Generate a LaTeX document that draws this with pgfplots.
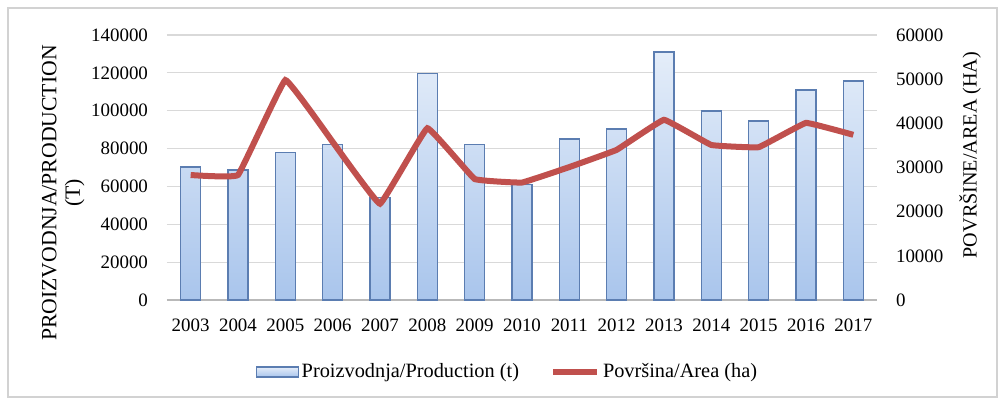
\documentclass[border=0pt]{standalone}
\usepackage{fontspec}
\setmainfont{Liberation Serif}
\usepackage{pgfplots}
\pgfplotsset{compat=1.18}

\definecolor{bartop}{HTML}{E4EDF9}
\definecolor{barbot}{HTML}{A9C5EC}
\definecolor{baredge}{HTML}{5B7DB1}
\definecolor{arealine}{HTML}{C0504D}
\definecolor{gridc}{HTML}{D9D9D9}

\pgfplotstableread{
x year prod area
0 2003 70300 28300
1 2004 68700 28300
2 2005 78000 49800
3 2006 82200 35800
4 2007 54000 21800
5 2008 119800 38900
6 2009 82000 27400
7 2010 61000 26600
8 2011 85000 30100
9 2012 90300 34000
10 2013 131000 40800
11 2014 99800 35100
12 2015 94600 34600
13 2016 111000 40100
14 2017 115700 37400
}\datatable

\pgfplotsset{
  common/.style={
    scale only axis, width=355bp, height=132.5bp,
    at={(0,0)}, anchor=south west,
    xmin=-0.5, xmax=14.5,
    major tick length=0pt,
    tick label style={font=\fontsize{9.5}{11}\selectfont},
    /pgf/number format/assume math mode=true,
    scaled y ticks=false,
    yticklabel style={/pgf/number format/fixed, /pgf/number format/1000 sep={}},
  },
  barlegend/.style={legend image code/.code={%
    \draw[draw=baredge, line width=0.6bp, top color=bartop, bottom color=barbot]
      (0bp,-2.5bp) rectangle (21bp,2.5bp);}},
  linelegend/.style={legend image code/.code={%
    \draw[arealine, line width=3bp] (0bp,0bp) -- (22bp,0bp);}},
}

\begin{document}
\begin{tikzpicture}
\path[use as bounding box] (-83.5bp,-50bp) rectangle (418.5bp,150bp);
\draw[gray!35, line width=0.8bp] (-79.5bp,-48.5bp) rectangle (415bp,146bp);

\begin{axis}[common,
  axis x line*=bottom, axis y line*=left,
  x axis line style={draw=gray!55, line width=0.6bp},
  y axis line style={draw=none},
  ymin=0, ymax=140000, ytick distance=20000,
  ymajorgrids, grid style={gridc, line width=0.6bp},
  xtick=data,
  xticklabels from table={\datatable}{year},
  xticklabel style={yshift=-6bp},
  yticklabel style={xshift=-6bp},
  ylabel={PROIZVODNJA/PRODUCTION\\(T)},
  ylabel style={align=center, font=\fontsize{10.9}{11.8}\selectfont,
    at={(axis description cs:-0.146,0.404)}, anchor=center},
]
\addplot[ybar, bar width=0.42, draw=baredge, line width=0.7bp,
  top color=bartop, bottom color=barbot]
  table[x=x, y=prod] {\datatable};
\end{axis}

\begin{axis}[common,
  axis x line=none, axis y line*=right,
  y axis line style={draw=none},
  ymin=0, ymax=60000, ytick distance=10000,
  yticklabel style={xshift=6bp},
  ylabel={POVRŠINE/AREA (HA)},
  ylabel style={font=\fontsize{10.1}{11}\selectfont,
    at={(axis description cs:1.131,0.547)}, anchor=center, rotate=0},
  legend style={at={(0.48,-0.272)}, anchor=center, draw=none, fill=none,
    legend columns=2, font=\fontsize{10.2}{11}\selectfont,
    nodes={inner xsep=1.5bp},
    /tikz/every even column/.append style={column sep=14bp}},
  legend cell align=left,
]
\addlegendimage{barlegend}
\addlegendentry{Proizvodnja/Production (t)}
\addplot[arealine, line width=3bp, smooth, tension=0.12, linelegend]
  table[x=x, y=area] {\datatable};
\addlegendentry{Površina/Area (ha)}
\end{axis}
\end{tikzpicture}
\end{document}
